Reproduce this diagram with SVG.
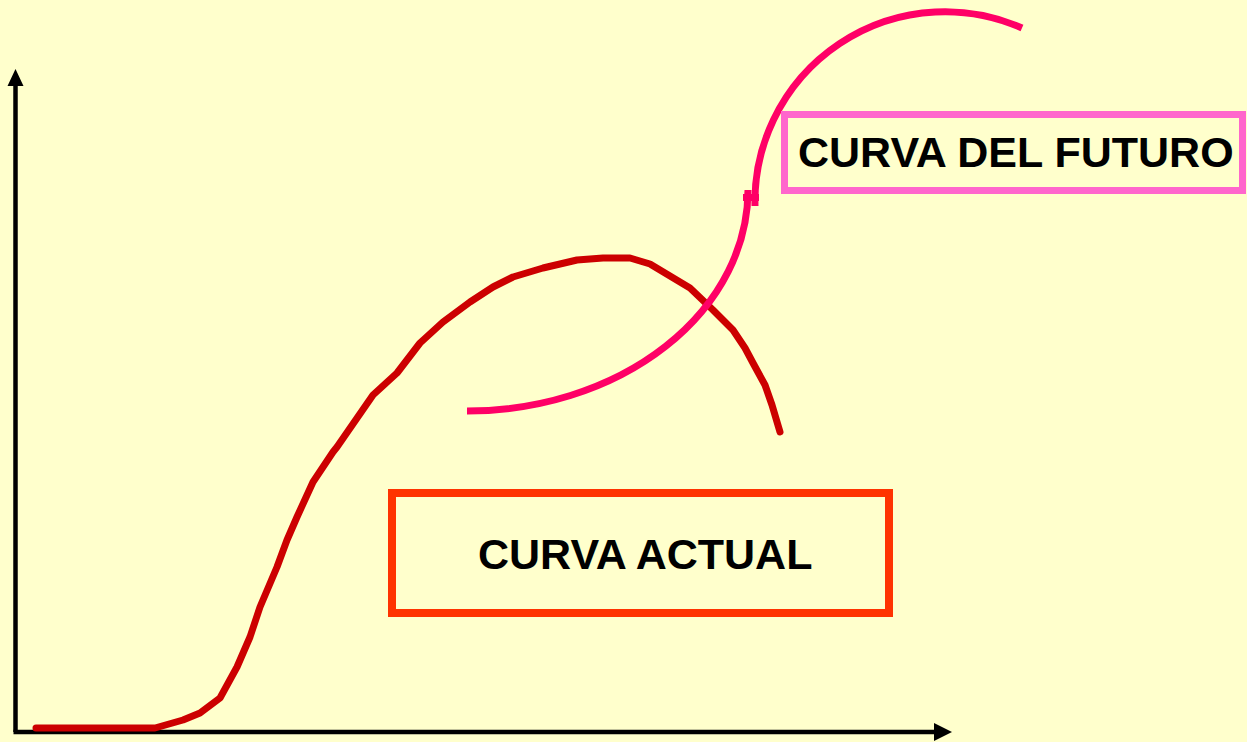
<svg xmlns="http://www.w3.org/2000/svg" width="1247" height="742" viewBox="0 0 1247 742">
<style>
.axis{stroke:#000;stroke-width:4.5;fill:none}
.head{fill:#000}
.actual{stroke:#CC0000;stroke-width:7;fill:none;stroke-linecap:round;stroke-linejoin:round}
.futuro{stroke:#FF0066;stroke-width:7;fill:none;stroke-linecap:butt}
.lbl{font-family:"Liberation Sans",Arial,sans-serif;font-weight:bold;font-size:43px;fill:#000}
</style>
<rect x="0" y="0" width="1247" height="742" fill="#FFFFCC"/>
<g id="axes">
<line class="axis" x1="15.5" y1="84" x2="15.5" y2="732"/>
<line class="axis" x1="13.5" y1="732" x2="936" y2="732"/>
<polygon class="head" points="15.5,69 7.5,86 23.5,86"/>
<polygon class="head" points="952,732 934,723 934,741"/>
</g>
<g id="connectors">
<polyline id="curva-actual-line" class="actual" points="36,728 155,728 183,720 200,713 220,698 237,667 250,637 260,607 277,567 287,540 297,517 313,482 333,452 337,447 373,395 397,373 420,343 443,322 470,302 493,287 513,277 543,268 577,260 603,258 630,258 650,264 690,288 713,310 733,330 745,348 753,363 765,385 772,405 780,432"/>
<path id="curva-futuro-line" class="futuro" d="M467,411 A281,221 0 0 0 748,190 M743,197.5 H759 M755,206 A190,190 0 0 1 1022,28"/>
</g>
<g id="node-actual">
<rect x="392" y="493" width="497" height="120" fill="none" stroke="#FF3300" stroke-width="8"/>
<text class="lbl" x="478" y="569">CURVA ACTUAL</text>
</g>
<g id="node-futuro">
<rect x="784.5" y="114.5" width="458" height="76" fill="none" stroke="#FF66CC" stroke-width="7"/>
<text class="lbl" x="798" y="167">CURVA DEL FUTURO</text>
</g>
</svg>
